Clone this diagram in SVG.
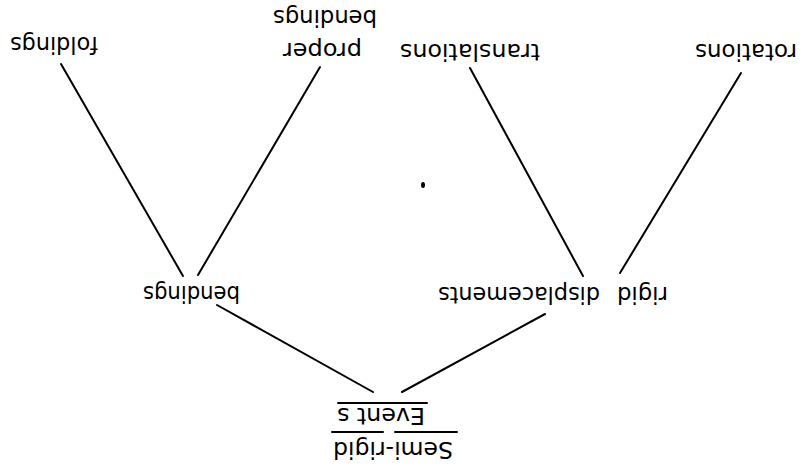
<svg xmlns="http://www.w3.org/2000/svg" width="804" height="469" viewBox="0 0 804 469">
<style>
  .lbl { font-family: "DejaVu Sans", "Liberation Sans", sans-serif; font-size: 23px; fill: #000; text-anchor: middle; }
  .lbls { font-family: "DejaVu Sans", "Liberation Sans", sans-serif; font-size: 23px; fill: #000; text-anchor: start; }
  .edge { stroke: #000; stroke-width: 2; fill: none; stroke-linecap: round; }
</style>
<rect x="0" y="0" width="804" height="469" fill="#fff"/>
<g id="connectors">
  <line class="edge" x1="61" y1="64" x2="183" y2="276"/>
  <line class="edge" x1="320" y1="67" x2="198" y2="275"/>
  <line class="edge" x1="470" y1="68" x2="583" y2="276"/>
  <line class="edge" x1="741" y1="73" x2="620" y2="273"/>
  <line class="edge" x1="217" y1="305" x2="373" y2="392"/>
  <line class="edge" x1="545" y1="314" x2="402" y2="392"/>
</g>
<g id="node-foldings">
  <text class="lbl" transform="rotate(180 54 37)" x="54" y="37" textLength="88" lengthAdjust="spacingAndGlyphs">foldings</text>
</g>
<g id="node-proper-bendings">
  <text class="lbl" transform="rotate(180 322.5 43)" x="322.5" y="43" textLength="79" lengthAdjust="spacingAndGlyphs">proper</text>
  <text class="lbl" transform="rotate(180 325 9.5)" x="325" y="9.5" textLength="104" lengthAdjust="spacingAndGlyphs">bendings</text>
</g>
<g id="node-translations">
  <text class="lbl" transform="rotate(180 470 44)" x="470" y="44" textLength="140" lengthAdjust="spacingAndGlyphs">translations</text>
</g>
<g id="node-rotations">
  <text class="lbl" transform="rotate(180 746 44)" x="746" y="44" textLength="102" lengthAdjust="spacingAndGlyphs">rotations</text>
</g>
<g id="node-bendings">
  <text class="lbl" transform="rotate(180 191.5 285.5)" x="191.5" y="285.5" textLength="97" lengthAdjust="spacingAndGlyphs">bendings</text>
</g>
<g id="node-rigid-displacements" transform="rotate(180 553 287)">
  <text class="lbls" x="438" y="287" textLength="51" lengthAdjust="spacingAndGlyphs">rigid</text>
  <text class="lbls" x="506" y="287" textLength="162" lengthAdjust="spacingAndGlyphs">displacements</text>
</g>
<g id="node-semi-rigid-events">
  <text class="lbl" transform="rotate(180 393 442)" x="393" y="442" textLength="120" lengthAdjust="spacingAndGlyphs">Semi-rigid</text>
  <text class="lbl" transform="rotate(180 381 408)" x="381" y="408" textLength="88" lengthAdjust="spacingAndGlyphs">Event s</text>
  <line class="edge" x1="338" y1="403" x2="427" y2="403"/>
  <line class="edge" x1="332" y1="432" x2="383" y2="432"/>
  <line class="edge" x1="395" y1="432" x2="457" y2="432"/>
</g>
<ellipse cx="423" cy="185" rx="2" ry="3" fill="#000"/>
</svg>
